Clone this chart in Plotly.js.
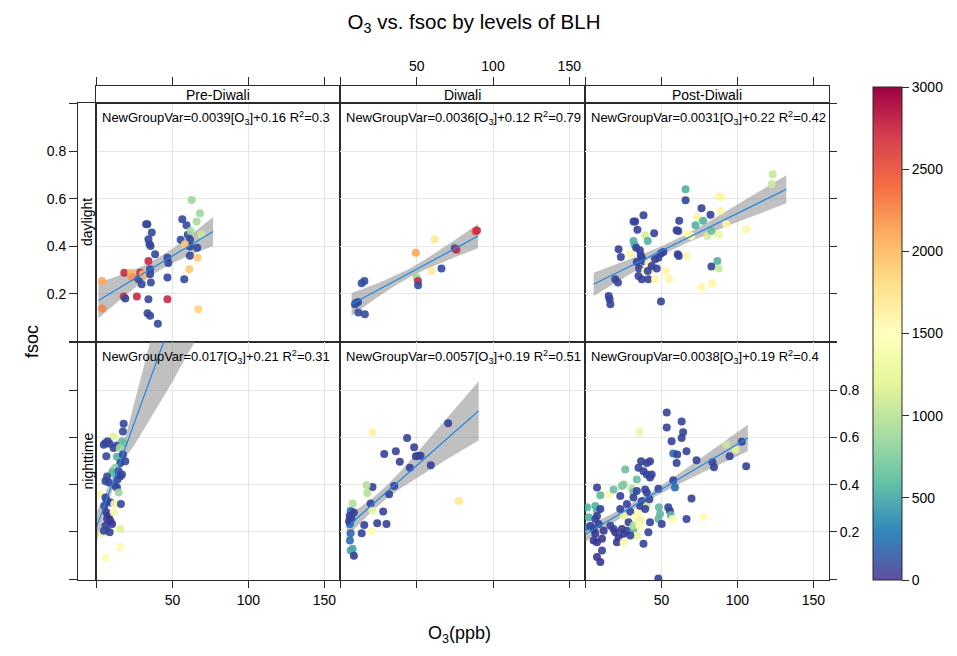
<!DOCTYPE html>
<html><head><meta charset="utf-8">
<script src="https://cdn.plot.ly/plotly-3.0.1.min.js"></script>
<style>html,body{margin:0;padding:0;background:#fff}#chart{width:957px;height:656px}</style>
</head><body><div id="chart"></div>
<script>
// ---------------- DATA ----------------
const periods = ['Pre-Diwali', 'Diwali', 'Post-Diwali'];
const times = ['daylight', 'nighttime'];
const xTicks = [50, 100, 150];
const xEdgeTicks = [0];
const yTicks = [0.2, 0.4, 0.6, 0.8];
const yEdgeTicks = [0, 1.0];
const blhTicks = [0, 500, 1000, 1500, 2000, 2500, 3000];
const equations = [
  'NewGroupVar=0.0039[O<sub>3</sub>]+0.16 R<sup>2</sup>=0.3',
  'NewGroupVar=0.0036[O<sub>3</sub>]+0.12 R<sup>2</sup>=0.79',
  'NewGroupVar=0.0031[O<sub>3</sub>]+0.22 R<sup>2</sup>=0.42',
  'NewGroupVar=0.017[O<sub>3</sub>]+0.21 R<sup>2</sup>=0.31',
  'NewGroupVar=0.0057[O<sub>3</sub>]+0.19 R<sup>2</sup>=0.51',
  'NewGroupVar=0.0038[O<sub>3</sub>]+0.19 R<sup>2</sup>=0.4'
];

// Pre-Diwali daylight
const preDayO3 = [3.7, 3.7, 18.3, 17.9, 19.0, 26.6, 22.7, 23.5, 28.8, 27.7,
  29.8, 30.5, 32.7, 33.5, 34.2, 34.9, 35.6, 36.4, 38.6, 34.2,
  35.3, 35.3, 35.8, 34.2, 33.6, 35.3, 40.4, 46.7, 47.3, 46.7,
  46.7, 56.5, 59.3, 55.4, 57.8, 60.1, 61.6, 61.5, 61.5, 66.3,
  62.6, 68.1, 65.9, 62.0, 69.2, 58.2, 66.5, 61.1, 67.0];
const preDayFsoc = [0.254, 0.138, 0.289, 0.188, 0.180, 0.188, 0.289, 0.270, 0.289, 0.261,
  0.240, 0.282, 0.493, 0.493, 0.429, 0.408, 0.401, 0.458, 0.366, 0.338,
  0.303, 0.282, 0.247, 0.177, 0.118, 0.107, 0.074, 0.352, 0.330, 0.268,
  0.177, 0.514, 0.488, 0.427, 0.261, 0.448, 0.427, 0.399, 0.360, 0.394,
  0.595, 0.539, 0.504, 0.464, 0.450, 0.408, 0.352, 0.303, 0.135];
const preDayBLH = [2100, 2250, 2750, 2750, 120, 2750, 2000, 2200, 2750, 120,
  120, 2000, 120, 120, 120, 120, 120, 120, 120, 2750,
  120, 120, 120, 120, 120, 120, 120, 120, 120, 120,
  2750, 120, 120, 120, 120, 120, 120, 120, 120, 120,
  900, 900, 950, 950, 1100, 1900, 1900, 1900, 1850];

// Diwali daylight
const diwaliDayO3 = [13.9, 15.7, 9.5, 11.6, 10.2, 11.7, 16.0, 49.4, 49.9, 50.8,
  50.9, 61.8, 59.7, 66.2, 74.9, 76.0, 88.5, 89.5];
const diwaliDayFsoc = [0.244, 0.254, 0.156, 0.165, 0.161, 0.121, 0.114, 0.373, 0.268, 0.254,
  0.236, 0.429, 0.296, 0.306, 0.392, 0.385, 0.462, 0.466];
const diwaliDayBLH = [150, 150, 150, 150, 150, 150, 150, 2100, 900, 2750,
  150, 1650, 1650, 120, 150, 2750, 2500, 2750];

// Post-Diwali daylight
const postDayO3 = [15.3, 15.9, 16.4, 19.6, 21.4, 21.8, 23.3, 29.5, 31.6, 32.7,
  34.2, 31.6, 32.3, 33.4, 35.8, 36.4, 38.2, 39.3, 41.0, 45.2,
  33.8, 35.3, 37.1, 38.2, 34.9, 37.1, 39.3, 41.4, 43.6, 45.8,
  48.0, 49.7, 51.3, 46.9, 41.4, 41.0, 45.8, 52.8, 55.0, 49.7,
  60.7, 61.5, 66.5, 60.0, 61.1, 61.7, 66.8, 65.9, 65.9, 72.4,
  73.7, 76.4, 77.4, 80.3, 82.3, 82.9, 82.9, 86.8, 87.8, 76.4,
  83.3, 87.7, 89.4, 89.0, 92.7, 87.7, 105.8, 123.2, 122.6, 69.6];
const postDayFsoc = [0.191, 0.177, 0.156, 0.261, 0.247, 0.387, 0.355, 0.369, 0.504, 0.504,
  0.469, 0.422, 0.406, 0.394, 0.383, 0.362, 0.530, 0.446, 0.422, 0.455,
  0.334, 0.306, 0.352, 0.338, 0.275, 0.261, 0.296, 0.330, 0.317, 0.345,
  0.352, 0.370, 0.376, 0.306, 0.261, 0.296, 0.261, 0.296, 0.261, 0.167,
  0.366, 0.359, 0.359, 0.467, 0.464, 0.507, 0.455, 0.640, 0.594, 0.488,
  0.523, 0.560, 0.507, 0.443, 0.533, 0.464, 0.315, 0.338, 0.306, 0.229,
  0.243, 0.609, 0.608, 0.549, 0.493, 0.450, 0.472, 0.703, 0.661, 0.443];
const postDayBLH = [100, 100, 100, 100, 100, 100, 100, 1550, 100, 100,
  100, 600, 600, 100, 100, 100, 100, 1150, 600, 100,
  100, 100, 100, 100, 100, 100, 1550, 1500, 80, 100,
  100, 100, 100, 100, 100, 100, 1550, 1550, 1550, 100,
  100, 100, 1550, 100, 100, 100, 1500, 600, 100, 600,
  1550, 100, 600, 1150, 100, 700, 100, 600, 1100, 1550,
  1550, 1550, 1550, 1550, 1550, 1300, 1550, 1100, 1100, 1550];

// Pre-Diwali nighttime
const preNightO3 = [17.9, 17.4, 11.3, 5.9, 7.4, 8.7, 6.5, 11.3, 13.5, 16.8,
  17.9, 15.3, 13.5, 17.4, 19.0, 15.7, 12.4, 10.9, 10.3, 14.6,
  15.7, 16.8, 13.9, 7.0, 5.9, 8.1, 12.4, 13.5, 14.6, 2.6,
  5.9, 7.0, 5.2, 9.2, 11.8, 16.1, 6.5, 8.1, 9.2, 10.3,
  7.0, 5.9, 6.5, 11.3, 15.7, 3.7, 15.7, 5.9, 4.8, 8.7,
  4.8];
const preNightFsoc = [0.657, 0.625, 0.604, 0.576, 0.583, 0.573, 0.520, 0.555, 0.565, 0.583,
  0.576, 0.555, 0.518, 0.527, 0.499, 0.492, 0.471, 0.460, 0.450, 0.457,
  0.436, 0.443, 0.422, 0.434, 0.415, 0.409, 0.394, 0.388, 0.367, 0.359,
  0.346, 0.331, 0.310, 0.325, 0.318, 0.318, 0.283, 0.268, 0.247, 0.234,
  0.255, 0.226, 0.213, 0.283, 0.213, 0.195, 0.136, 0.090, 0.205, 0.199,
  0.569];
const preNightBLH = [120, 120, 1250, 120, 120, 120, 120, 120, 120, 700,
  700, 900, 600, 120, 120, 120, 850, 850, 650, 120,
  120, 120, 120, 120, 120, 120, 120, 120, 900, 1400,
  120, 120, 120, 120, 1400, 120, 40, 40, 40, 40,
  40, 40, 200, 1400, 1200, 1450, 1500, 1500, 120, 120,
  120];

// Diwali nighttime
const diwaliNightO3 = [70.6, 43.7, 48.3, 21.0, 28.7, 36.3, 38.9, 49.4, 51.0, 52.5,
  45.5, 59.2, 35.2, 31.9, 21.0, 17.1, 17.6, 19.8, 21.0, 28.0,
  24.1, 30.2, 15.6, 13.9, 20.4, 8.0, 6.7, 8.8, 7.3, 6.2,
  6.7, 6.2, 8.0, 6.7, 8.8, 77.6, 6.0, 5.6];
const diwaliNightFsoc = [0.660, 0.597, 0.558, 0.621, 0.530, 0.541, 0.497, 0.520, 0.522, 0.522,
  0.471, 0.482, 0.394, 0.359, 0.390, 0.397, 0.365, 0.320, 0.290, 0.287,
  0.237, 0.234, 0.229, 0.195, 0.203, 0.320, 0.289, 0.282, 0.255, 0.234,
  0.195, 0.164, 0.129, 0.122, 0.100, 0.331, 0.268, 0.245];
const diwaliNightBLH = [100, 100, 100, 1600, 100, 100, 100, 100, 100, 100,
  100, 100, 100, 100, 100, 1000, 1000, 100, 1300, 100,
  100, 100, 100, 100, 1500, 1000, 300, 60, 100, 300,
  300, 300, 550, 550, 60, 1700, 100, 100];

// Post-Diwali nighttime
const postNightO3 = [53.5, 53.5, 63.3, 64.3, 63.3, 56.7, 66.5, 35.5, 57.8, 60.4,
  60.0, 73.1, 83.6, 84.6, 92.7, 94.9, 98.8, 102.9, 105.8, 36.6,
  40.4, 42.5, 34.9, 38.2, 40.4, 42.5, 43.6, 33.8, 26.2, 24.0,
  25.1, 30.6, 31.6, 33.8, 39.3, 40.4, 48.0, 57.8, 58.9, 69.8,
  7.6, 9.8, 15.3, 1.1, 6.5, 7.6, 9.8, 2.2, 6.5, 7.6,
  0.0, 3.3, 5.4, 8.7, 6.5, 5.4, 7.6, 10.9, 12.0, 10.9,
  7.6, 9.8, 16.4, 18.5, 22.9, 27.3, 29.5, 25.1, 19.6, 21.8,
  20.7, 24.0, 25.1, 27.3, 25.1, 31.6, 33.8, 29.5, 28.4, 32.7,
  34.9, 36.0, 31.6, 35.5, 38.2, 41.4, 42.5, 48.4, 49.1, 48.0,
  50.2, 54.5, 55.6, 56.1, 57.4, 66.5, 77.9, 48.0, 31.6, 37.1,
  36.0, 40.4, 42.1, 39.3, 22.9, 18.5];
const postNightFsoc = [0.705, 0.642, 0.667, 0.621, 0.597, 0.583, 0.541, 0.623, 0.532, 0.527,
  0.492, 0.503, 0.495, 0.474, 0.569, 0.520, 0.548, 0.581, 0.478, 0.499,
  0.492, 0.499, 0.471, 0.457, 0.443, 0.430, 0.443, 0.422, 0.464, 0.394,
  0.401, 0.383, 0.369, 0.373, 0.380, 0.367, 0.383, 0.419, 0.388, 0.341,
  0.388, 0.355, 0.357, 0.304, 0.310, 0.289, 0.297, 0.262, 0.255, 0.268,
  0.220, 0.226, 0.213, 0.234, 0.192, 0.164, 0.157, 0.171, 0.205, 0.122,
  0.094, 0.073, 0.226, 0.213, 0.297, 0.318, 0.285, 0.268, 0.199, 0.178,
  0.157, 0.213, 0.192, 0.205, 0.157, 0.213, 0.185, 0.185, 0.241, 0.262,
  0.276, 0.247, 0.226, 0.226, 0.150, 0.199, 0.241, 0.304, 0.276, 0.255,
  0.234, 0.304, 0.289, 0.271, 0.255, 0.255, 0.264, 0.003, 0.346, 0.331,
  0.310, 0.310, 0.338, 0.297, 0.352, 0.380];
const postNightBLH = [100, 100, 100, 100, 100, 100, 100, 1300, 300, 100,
  100, 100, 100, 100, 1100, 100, 1200, 100, 100, 100,
  100, 100, 100, 100, 100, 100, 100, 700, 700, 800,
  800, 1000, 700, 100, 100, 100, 100, 100, 300, 100,
  100, 650, 1450, 600, 600, 600, 100, 600, 100, 100,
  350, 100, 100, 100, 40, 40, 40, 40, 40, 100,
  40, 40, 100, 100, 100, 100, 100, 1300, 40, 40,
  40, 40, 40, 100, 1400, 600, 1300, 100, 100, 1500,
  1500, 1300, 1000, 1500, 100, 100, 100, 650, 650, 650,
  100, 100, 100, 650, 1500, 100, 1500, 100, 100, 100,
  100, 1100, 100, 100, 100, 700];

// Regression fits and confidence bands
const preDayFitX = [1.3, 10, 20, 30, 40, 50, 60, 70, 76.8];
const preDayFit = [0.172, 0.205, 0.244, 0.282, 0.321, 0.359, 0.398, 0.436, 0.462];
const preDayLo = [0.097, 0.145, 0.199, 0.249, 0.293, 0.328, 0.358, 0.384, 0.401];
const preDayHi = [0.247, 0.265, 0.289, 0.315, 0.349, 0.390, 0.438, 0.488, 0.523];

const diwaliDayFitX = [7.3, 15, 25, 35, 45, 55, 65, 75, 90.2];
const diwaliDayFit = [0.156, 0.183, 0.217, 0.252, 0.286, 0.321, 0.356, 0.390, 0.443];
const diwaliDayLo = [0.109, 0.145, 0.189, 0.231, 0.268, 0.300, 0.328, 0.354, 0.392];
const diwaliDayHi = [0.203, 0.221, 0.245, 0.273, 0.304, 0.342, 0.384, 0.426, 0.494];

const postDayFitX = [5.4, 20, 35, 50, 65, 80, 95, 110, 132.2];
const postDayFit = [0.240, 0.286, 0.333, 0.381, 0.428, 0.475, 0.523, 0.570, 0.640];
const postDayLo = [0.191, 0.248, 0.306, 0.362, 0.410, 0.451, 0.489, 0.526, 0.581];
const postDayHi = [0.289, 0.324, 0.360, 0.400, 0.446, 0.499, 0.557, 0.614, 0.699];

const preNightFitX = [0, 5, 10, 15, 20, 25, 30, 35, 40, 45, 50, 60, 70];
const preNightFit = [0.22, 0.309, 0.397, 0.486, 0.574, 0.663, 0.751, 0.840, 0.928, 1.017, 1.105, 1.282, 1.459];
const preNightLo = [0.157, 0.267, 0.367, 0.451, 0.524, 0.568, 0.621, 0.675, 0.728, 0.782, 0.835, 0.952, 1.059];
const preNightHi = [0.283, 0.351, 0.427, 0.521, 0.624, 0.758, 0.881, 1.005, 1.128, 1.252, 1.375, 1.612, 1.859];

const diwaliNightFitX = [4.1, 10, 20, 30, 40, 50, 60, 70, 80, 90.6];
const diwaliNightFit = [0.220, 0.254, 0.310, 0.367, 0.424, 0.481, 0.538, 0.595, 0.652, 0.712];
const diwaliNightLo = [0.175, 0.218, 0.283, 0.340, 0.387, 0.428, 0.469, 0.508, 0.547, 0.587];
const diwaliNightHi = [0.265, 0.290, 0.337, 0.394, 0.461, 0.534, 0.607, 0.682, 0.757, 0.837];

const postNightFitX = [0, 15, 30, 45, 60, 75, 90, 106.9];
const postNightFit = [0.190, 0.247, 0.304, 0.361, 0.419, 0.476, 0.533, 0.597];
const postNightLo = [0.159, 0.225, 0.289, 0.347, 0.398, 0.445, 0.490, 0.541];
const postNightHi = [0.221, 0.269, 0.319, 0.375, 0.440, 0.507, 0.576, 0.653];

// ---------------- BUILD ----------------
// colour bar scale (Spectral, reversed)
const spectral = [[0, '#5E4FA2'], [0.1, '#3288BD'], [0.2, '#66C2A5'], [0.3, '#ABDDA4'],
  [0.4, '#E6F598'], [0.5, '#FFFFBF'], [0.6, '#FEE08B'], [0.7, '#FDAE61'],
  [0.8, '#F46D43'], [0.9, '#D53E4F'], [1, '#9E0142']];
// slightly deeper version used for the point fills, as the points look in the picture
const pointScale = [[0, '#3A2F8E'], [0.1, '#2C6CB0'], [0.2, '#52B2A2'], [0.3, '#9ED59E'],
  [0.4, '#E0F296'], [0.5, '#FFFAAE'], [0.6, '#FEDA7E'], [0.7, '#FCA657'],
  [0.8, '#EF633C'], [0.9, '#CF3346'], [1, '#9E0142']];

const panels = [
  {o3: preDayO3, f: preDayFsoc, b: preDayBLH, fx: preDayFitX, fit: preDayFit, lo: preDayLo, hi: preDayHi},
  {o3: diwaliDayO3, f: diwaliDayFsoc, b: diwaliDayBLH, fx: diwaliDayFitX, fit: diwaliDayFit, lo: diwaliDayLo, hi: diwaliDayHi},
  {o3: postDayO3, f: postDayFsoc, b: postDayBLH, fx: postDayFitX, fit: postDayFit, lo: postDayLo, hi: postDayHi},
  {o3: preNightO3, f: preNightFsoc, b: preNightBLH, fx: preNightFitX, fit: preNightFit, lo: preNightLo, hi: preNightHi},
  {o3: diwaliNightO3, f: diwaliNightFsoc, b: diwaliNightBLH, fx: diwaliNightFitX, fit: diwaliNightFit, lo: diwaliNightLo, hi: diwaliNightHi},
  {o3: postNightO3, f: postNightFsoc, b: postNightBLH, fx: postNightFitX, fit: postNightFit, lo: postNightLo, hi: postNightHi}
];

const W = 957, H = 656;
const colEdges = [96, 340, 585, 829];
const rowEdges = [103, 342, 580];
const stripTop = 86, stripLeft = 78;
const px = p => p / W;
const py = p => 1 - p / H;
const xRange = [-0.3, 160.3];
const yRange = [-0.003, 1.003];
const lineCol = '#2b2b2b';
const gridCol = '#E6E6E6';
const font = 'Liberation Sans, Arial, sans-serif';
const sfx = n => (n === 1 ? '' : String(n));
const minorTicks = (vals, on) => ({tickmode: 'array', tickvals: vals, ticks: on ? 'outside' : '',
  ticklen: 7, tickcolor: lineCol, tickwidth: 1, showgrid: false});

const traces = [];
const layout = {
  width: W, height: H,
  margin: {l: 0, r: 0, t: 0, b: 0},
  paper_bgcolor: '#ffffff', plot_bgcolor: '#ffffff',
  font: {family: font, color: '#000', size: 14},
  showlegend: false,
  title: {text: 'O<sub>3</sub> vs. fsoc by levels of BLH', x: 474 / W, xanchor: 'center',
    y: 1 - 22 / H, yanchor: 'middle', yref: 'container', font: {size: 20.5, family: font}},
  annotations: []
};

// colour bar carrier (no visible marks)
traces.push({
  type: 'scatter', mode: 'markers', x: [null, null], y: [null, null], xaxis: 'x', yaxis: 'y',
  hoverinfo: 'skip',
  marker: {
    color: [0, 3000], colorscale: spectral, cmin: 0, cmax: 3000, showscale: true,
    colorbar: {
      x: 873 / W, xanchor: 'left', xpad: 0, ypad: 0,
      y: 1 - 580 / H, yanchor: 'bottom', len: (580 - 87) / H, lenmode: 'fraction',
      thickness: 29, thicknessmode: 'pixels',
      outlinewidth: 1, outlinecolor: lineCol,
      tickvals: blhTicks, ticks: 'outside', ticklen: 7, tickcolor: lineCol,
      tickfont: {size: 14, family: font}
    }
  }
});

panels.forEach((p, i) => {
  const r = Math.floor(i / 3), c = i % 3, n = i + 1, s = sfx(n);
  const xa = 'x' + s, ya = 'y' + s;
  const xTicksOn = r === 1;
  const yTicksOn = c === 2;
  layout['xaxis' + s] = {
    domain: [px(colEdges[c]), px(colEdges[c + 1])], anchor: ya, range: xRange,
    tickmode: 'array', tickvals: xTicks, showticklabels: r === 1 && c !== 1,
    ticks: xTicksOn ? 'outside' : '', ticklen: 7, tickcolor: lineCol, tickwidth: 1,
    minor: minorTicks(xEdgeTicks, xTicksOn),
    showgrid: true, gridcolor: gridCol, gridwidth: 1, zeroline: false,
    showline: true, mirror: true, linecolor: lineCol, linewidth: 1,
    tickfont: {size: 14}, fixedrange: true
  };
  layout['yaxis' + s] = {
    domain: [py(rowEdges[r + 1]), py(rowEdges[r])], anchor: xa, range: yRange,
    tickmode: 'array', tickvals: yTicks, side: c === 2 ? 'right' : 'left',
    showticklabels: c === 2 && r === 1, ticks: yTicksOn ? 'outside' : '', ticklen: 7,
    tickcolor: lineCol, tickwidth: 1,
    minor: minorTicks(yEdgeTicks, yTicksOn),
    showgrid: true, gridcolor: gridCol, gridwidth: 1, zeroline: false,
    showline: true, mirror: true, linecolor: lineCol, linewidth: 1,
    tickfont: {size: 14}, fixedrange: true
  };
  // confidence band
  traces.push({
    type: 'scatter', mode: 'lines', xaxis: xa, yaxis: ya,
    x: p.fx.concat(p.fx.slice().reverse()),
    y: p.lo.concat(p.hi.slice().reverse()),
    fill: 'toself', fillcolor: 'rgba(140,140,140,0.55)', line: {width: 0},
    hoverinfo: 'skip'
  });
  // points
  traces.push({
    type: 'scatter', mode: 'markers', xaxis: xa, yaxis: ya,
    x: p.o3, y: p.f, hoverinfo: 'skip',
    marker: {size: 8, color: p.b, colorscale: pointScale, cmin: 0, cmax: 3000,
      opacity: 0.9, line: {width: 0}, showscale: false}
  });
  // fit line
  traces.push({
    type: 'scatter', mode: 'lines', xaxis: xa, yaxis: ya,
    x: p.fx, y: p.fit, line: {color: '#1E88E5', width: 1.2}, hoverinfo: 'skip'
  });
  // equation
  layout.annotations.push({
    text: equations[i], xref: 'paper', yref: 'paper', showarrow: false,
    x: px(colEdges[c] + 4), xanchor: 'left', y: py(rowEdges[r] + 15), yanchor: 'middle',
    font: {size: 13, family: font}
  });
});

// top strips (with top ticks)
periods.forEach((name, c) => {
  const n = 7 + c, s = sfx(n);
  layout['xaxis' + s] = {
    domain: [px(colEdges[c]), px(colEdges[c + 1])], anchor: 'y' + s, range: xRange,
    side: 'top', tickmode: 'array', tickvals: xTicks, showticklabels: c === 1,
    ticks: 'outside', ticklen: 8, tickcolor: lineCol, showgrid: false, zeroline: false,
    minor: Object.assign(minorTicks(xEdgeTicks, true), {ticklen: 8}),
    showline: true, mirror: true, linecolor: lineCol, linewidth: 1, tickfont: {size: 14}, fixedrange: true
  };
  layout['yaxis' + s] = {
    domain: [py(rowEdges[0]), py(stripTop)], anchor: 'x' + s, range: [0, 1],
    showticklabels: false, ticks: '', showgrid: false, zeroline: false,
    showline: true, mirror: true, linecolor: lineCol, linewidth: 1, fixedrange: true
  };
  traces.push({type: 'scatter', mode: 'markers', x: [null], y: [null], xaxis: 'x' + s, yaxis: 'y' + s, hoverinfo: 'skip'});
  layout.annotations.push({
    text: name, xref: 'paper', yref: 'paper', showarrow: false,
    x: px((colEdges[c] + colEdges[c + 1]) / 2), y: py(95), xanchor: 'center', yanchor: 'middle',
    font: {size: 14, family: font}
  });
});

// left strips (with left ticks)
times.forEach((name, r) => {
  const n = 10 + r, s = sfx(n);
  layout['xaxis' + s] = {
    domain: [px(stripLeft), px(colEdges[0])], anchor: 'y' + s, range: [0, 1],
    showticklabels: false, ticks: '', showgrid: false, zeroline: false,
    showline: true, mirror: true, linecolor: lineCol, linewidth: 1, fixedrange: true
  };
  layout['yaxis' + s] = {
    domain: [py(rowEdges[r + 1]), py(rowEdges[r])], anchor: 'x' + s, range: yRange,
    side: 'left', tickmode: 'array', tickvals: yTicks, showticklabels: r === 0,
    ticks: 'outside', ticklen: 8, tickcolor: lineCol, showgrid: false, zeroline: false,
    minor: Object.assign(minorTicks(yEdgeTicks, true), {ticklen: 8}),
    showline: true, mirror: true, linecolor: lineCol, linewidth: 1, tickfont: {size: 14}, fixedrange: true
  };
  traces.push({type: 'scatter', mode: 'markers', x: [null], y: [null], xaxis: 'x' + s, yaxis: 'y' + s, hoverinfo: 'skip'});
  layout.annotations.push({
    text: name, xref: 'paper', yref: 'paper', showarrow: false, textangle: -90,
    x: px(87.5), y: py((rowEdges[r] + rowEdges[r + 1]) / 2), xanchor: 'center', yanchor: 'middle',
    font: {size: 14, family: font}
  });
});

// axis titles
layout.annotations.push({
  text: 'O<sub>3</sub>(ppb)', xref: 'paper', yref: 'paper', showarrow: false,
  x: px(459), y: py(634), xanchor: 'center', yanchor: 'middle', font: {size: 18, family: font}
});
layout.annotations.push({
  text: 'fsoc', xref: 'paper', yref: 'paper', showarrow: false, textangle: -90,
  x: px(32), y: py(342), xanchor: 'center', yanchor: 'middle', font: {size: 18, family: font}
});

Plotly.newPlot('chart', traces, layout, {displayModeBar: false, staticPlot: true});
</script>
</body></html>
